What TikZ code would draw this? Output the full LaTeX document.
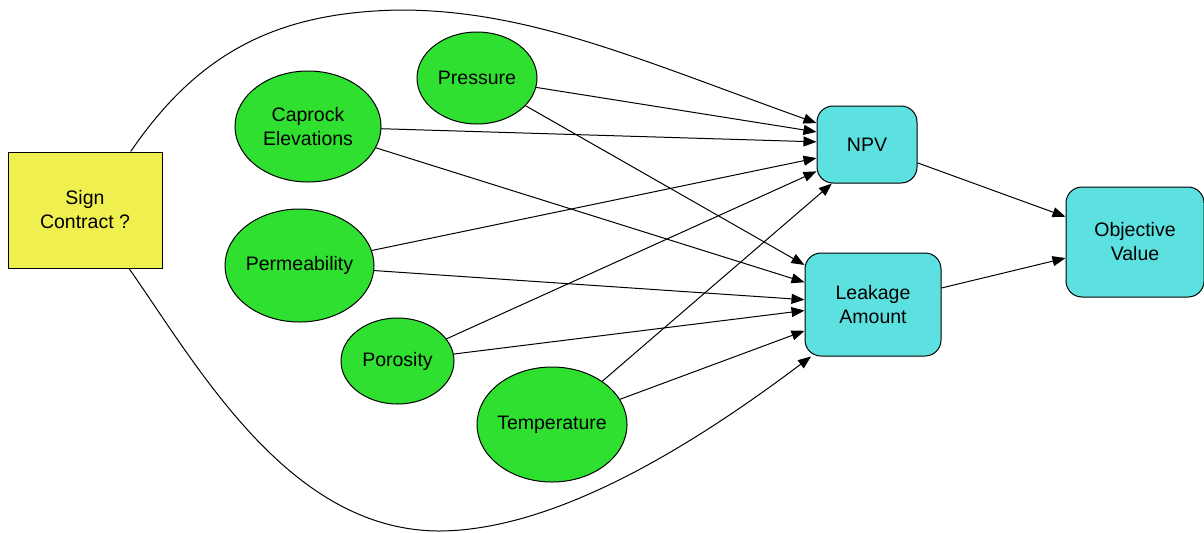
\documentclass[tikz,border=0pt]{standalone}
\usepackage{fontspec}
\setmainfont{Liberation Sans}
\usepackage{tikz}
\usetikzlibrary{arrows.meta,shapes.geometric}
\usepackage{xcolor}
\definecolor{dvBlack}{HTML}{000000}
\definecolor{dvYellow}{HTML}{EFEF50}
\definecolor{dvGreen}{HTML}{30E030}
\definecolor{dvCyan}{HTML}{5CE0E0}
\newcommand{\dgfont}{\fontsize{9.75}{12}\selectfont}

\begin{document}
\begin{tikzpicture}[
      x=50pt,y=-50pt,
      decbox/.style={draw=dvBlack,line width=0.5pt,fill=dvYellow,
                  minimum width=77pt,minimum height=58pt,
                  font=\dgfont,align=center,inner sep=0pt},
      chance/.style={ellipse,draw=dvBlack,line width=0.5pt,fill=dvGreen,
                  font=\dgfont,align=center,inner xsep=-2pt,inner ysep=0pt},
      valbox/.style={draw=dvBlack,line width=0.5pt,rounded corners=8pt,fill=dvCyan,
                  font=\dgfont,align=center,inner sep=0pt},
      arr/.style={-{Triangle[length=6.5pt,width=5pt]},line width=0.5pt,dvBlack}]
    \useasboundingbox (0,0) rectangle (12.04,5.32);
    \node[decbox] (sign) at (0.85,2.10) {Sign\\Contract ?};
    \node[chance,minimum width=73pt,minimum height=55.5pt] (caprock) at (3.08,1.265) {Caprock\\Elevations};
    \node[chance,minimum width=60pt,minimum height=46pt] (pres) at (4.77,0.78) {Pressure};
    \node[chance,minimum width=74.5pt,minimum height=56.5pt] (perm) at (2.995,2.655) {Permeability};
    \node[chance,minimum width=56.5pt,minimum height=43pt] (poros) at (3.975,3.61) {Porosity};
    \node[chance,minimum width=75pt,minimum height=57.5pt] (temp) at (5.52,4.245) {Temperature};
    \node[valbox,minimum width=50pt,minimum height=38.5pt] (npv) at (8.67,1.445) {NPV};
    \node[valbox,minimum width=68pt,minimum height=51.5pt] (leak) at (8.73,3.045) {Leakage\\Amount};
    \node[valbox,minimum width=69pt,minimum height=55pt] (obj) at (11.35,2.42) {Objective\\Value};
    \draw[arr] (sign.52) .. controls (2.00,0.50) and (2.80,0.12) .. (4.00,0.10)
      .. controls (5.30,0.10) and (6.40,0.60) .. (npv.157);
    \draw[arr] (sign.-53) .. controls (2.00,3.70) and (2.90,5.31) .. (4.40,5.31)
      .. controls (5.60,5.30) and (7.00,4.40) .. (leak.220);
    \draw[arr] (pres) -- (npv.166);
    \draw[arr] (pres) -- (leak.150);
    \draw[arr] (caprock) -- (npv.177);
    \draw[arr] (caprock) -- (leak.162);
    \draw[arr] (perm) -- (npv.195);
    \draw[arr] (perm) -- (leak.176);
    \draw[arr] (poros) -- (npv.208);
    \draw[arr] (poros) -- (leak.185);
    \draw[arr] (temp) -- (npv.228);
    \draw[arr] (temp) -- (leak.201);
    \draw[arr] (npv) -- (obj.160);
    \draw[arr] (leak) -- (obj.193);
  \end{tikzpicture}
\end{document}
